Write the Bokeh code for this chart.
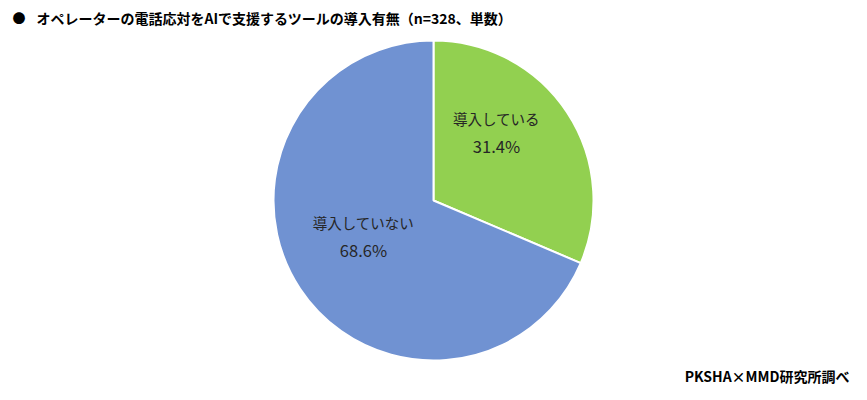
import math
from bokeh.plotting import figure
from bokeh.models import Range1d, ColumnDataSource
from bokeh.core.properties import value
from bokeh.embed import file_html
from bokeh.resources import INLINE

categories = ["導入している", "導入していない"]
percents = [31.4, 68.6]
pct_labels = ["31.4%", "68.6%"]
colors = ["#92D050", "#7092D2"]

title_text = "オペレーターの電話応対をAIで支援するツールの導入有無（n=328、単数）"
source_text = "PKSHA×MMD研究所調べ"

W, H = 851, 384
p = figure(width=W, height=H, output_backend="svg", toolbar_location=None,
           x_range=Range1d(0, W), y_range=Range1d(400 - H, 400),
           min_border=0, outline_line_color=None)
p.axis.visible = False
p.grid.visible = False
p.background_fill_color = "white"
p.border_fill_color = "white"

cx, cy, r = 433, 200, 160
total = sum(percents)
starts, ends = [], []
ang = math.pi / 2
for v in percents:
    sweep = v / total * 2 * math.pi
    # clockwise from top
    ends.append(ang)
    starts.append(ang - sweep)
    ang -= sweep

src = ColumnDataSource(dict(start=starts, end=ends, color=colors))
p.wedge(x=cx, y=cy, radius=r, start_angle="start", end_angle="end",
        fill_color="color", line_color="white", line_width=2, source=src)

font = value("Noto Sans CJK JP")
label_pos = [(496, 282), (363, 178)]
lx = [pos[0] for pos in label_pos]
p.text(x=lx, y=[pos[1] for pos in label_pos], text=categories, text_font=font,
       text_font_size="14.5px", text_color="#262626", text_align="center", text_baseline="middle")
p.text(x=lx, y=[pos[1] - 27 for pos in label_pos], text=pct_labels, text_font=font,
       text_font_size="16.5px", text_color="#262626", text_align="center", text_baseline="middle")

p.text(x=[12], y=[383], text=["●"], text_font=font, text_font_size="13px",
       text_color="black", text_align="left", text_baseline="middle")
p.text(x=[36], y=[383], text=[title_text], text_font=font, text_font_size="14px",
       text_font_style="bold", text_color="black", text_align="left", text_baseline="middle")
p.text(x=[849], y=[25], text=[source_text], text_font=font, text_font_size="14px",
       text_font_style="bold", text_color="black", text_align="right", text_baseline="middle")

open("out.html", "w").write(file_html(p, INLINE))
